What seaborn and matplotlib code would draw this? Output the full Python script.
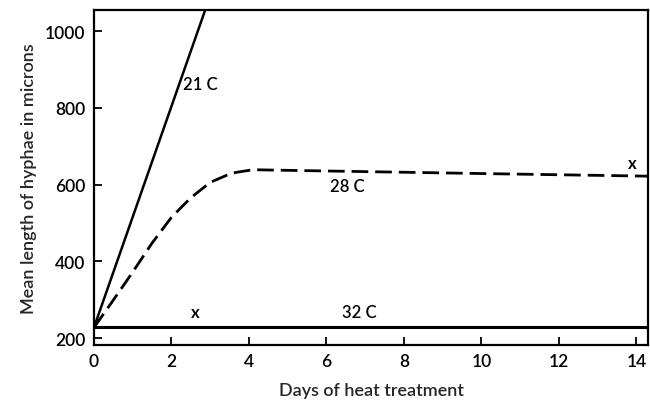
import matplotlib
matplotlib.use("Agg")
import matplotlib.pyplot as plt
import seaborn as sns
import pandas as pd

# Data
days_21 = [0.0, 2.87]
len_21 = [228, 1055]

days_28 = [0.0, 0.4, 0.95, 1.5, 2.0, 2.5, 3.0, 3.55, 4.1, 4.6, 7.0, 10.0, 14.4]
len_28 = [228, 285, 365, 448, 515, 566, 606, 630, 639, 638, 634, 629, 622]

days_32 = [0.0, 14.4]
len_32 = [228, 228]

x_marks_days = [2.62, 13.9]
x_marks_len = [268, 656]

labels = ["21 C", "28 C", "32 C"]
label_days = [2.75, 6.55, 6.85]
label_len = [862, 596, 268]

xticks = [0, 2, 4, 6, 8, 10, 12, 14]
yticks = [200, 400, 600, 800, 1000]

sns.set_theme(style="white")
plt.rcParams["font.family"] = ["Lato", "DejaVu Sans"]

fig = plt.figure(figsize=(6.5, 4.02), dpi=100)
ax = fig.add_axes([0.1446, 0.139, 0.8524, 0.8336])

df21 = pd.DataFrame({"d": days_21, "v": len_21})
df28 = pd.DataFrame({"d": days_28, "v": len_28})
df32 = pd.DataFrame({"d": days_32, "v": len_32})

sns.lineplot(data=df21, x="d", y="v", ax=ax, color="black", linewidth=1.8,
             estimator=None, sort=False)
sns.lineplot(data=df28, x="d", y="v", ax=ax, color="black", linewidth=2.0,
             estimator=None, sort=False)
ax.lines[-1].set_dashes([6, 2.5])
sns.lineplot(data=df32, x="d", y="v", ax=ax, color="black", linewidth=2.2,
             estimator=None, sort=False)

for d, v in zip(x_marks_days, x_marks_len):
    ax.text(d, v, "x", ha="center", va="center", fontsize=12, fontweight="bold",
            color="black")
for t, d, v in zip(labels, label_days, label_len):
    ax.text(d, v, t, ha="center", va="center", fontsize=12, fontweight="semibold",
            color="black")

ax.set_xlim(0, 14.3)
ax.set_ylim(182, 1055)
ax.set_xticks(xticks)
ax.set_yticks(yticks)
ax.set_xticklabels([str(t) for t in xticks], fontsize=12.5, fontweight="semibold")
ax.set_yticklabels([str(t) for t in yticks], fontsize=12.5, fontweight="semibold")
ax.tick_params(direction="in", length=6, width=1.3, colors="black",
               left=True, bottom=True, pad=6)
ax.set_xlabel("Days of heat treatment", fontsize=13, fontweight="semibold", labelpad=9)
ax.set_ylabel("Mean length of hyphae in microns", fontsize=13, fontweight="semibold",
              labelpad=6)
for s in ax.spines.values():
    s.set_visible(True)
    s.set_color("black")
    s.set_linewidth(1.6)

fig.savefig("out.png", dpi=100)
